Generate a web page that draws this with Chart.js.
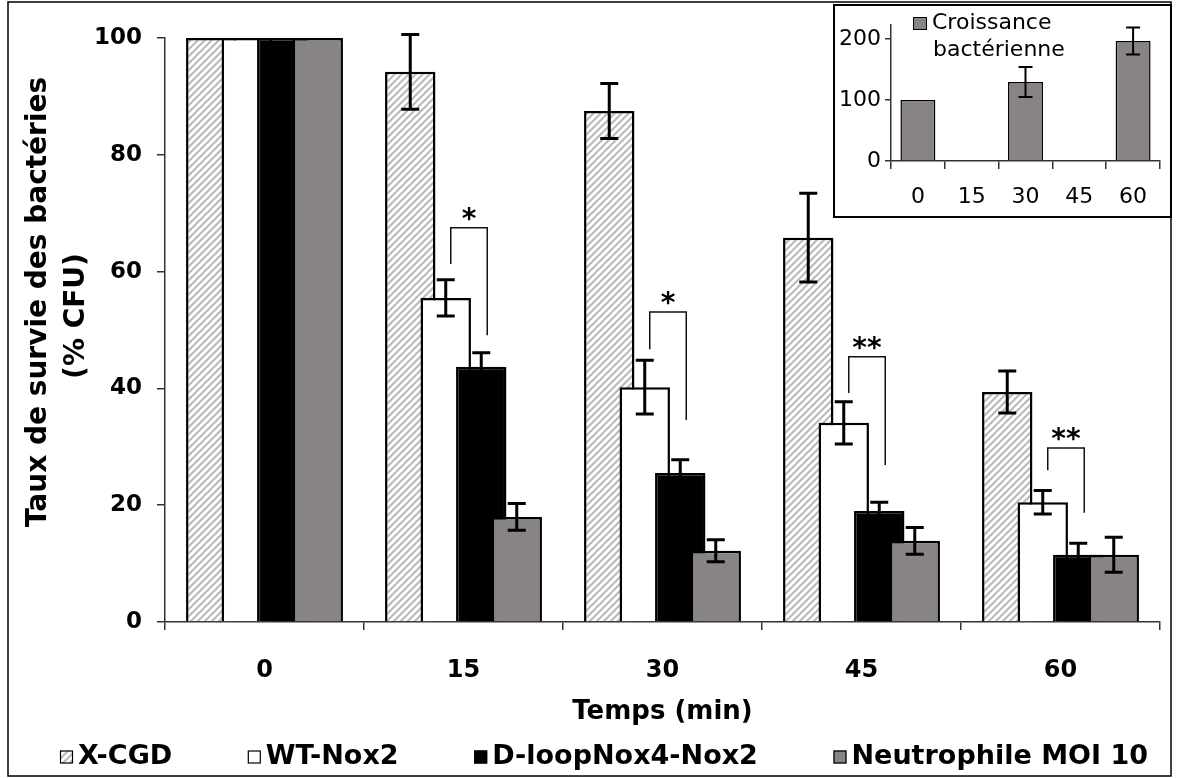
<!DOCTYPE html>
<html><head><meta charset="utf-8">
<script src="https://cdn.jsdelivr.net/npm/chart.js@4.4.1/dist/chart.umd.min.js"></script>
<style>
html,body{margin:0;padding:0;background:#fff;}
#wrap{position:relative;width:1177px;height:778px;overflow:hidden;background:#fff;}
#main{position:absolute;left:0;top:0;}
#insetBox{position:absolute;left:833px;top:4px;width:339px;height:214px;border:2px solid #000;box-sizing:border-box;background:#fff;}
#inset{position:absolute;left:0;top:0;}
</style></head><body>
<div id="wrap">
<canvas id="main" width="1177" height="778"></canvas>
<div id="insetBox"><canvas id="inset" width="335" height="210"></canvas></div>
</div>
<script>
// ---------- data ----------
const categories = ['0', '15', '30', '45', '60'];
const seriesNames = ['X-CGD', 'WT-Nox2', 'D-loopNox4-Nox2', 'Neutrophile MOI 10'];
const xcgdValues   = [100, 94.2, 87.5, 65.8, 39.4];
const xcgdErrors   = [0, 6.4, 4.7, 7.6, 3.6];
const wtValues     = [100, 55.5, 40.2, 34.1, 20.5];
const wtErrors     = [0, 3.1, 4.6, 3.6, 2.0];
const dloopValues  = [100, 43.7, 25.5, 19.0, 11.5];
const dloopErrors  = [0, 2.4, 2.3, 1.5, 2.0];
const neutroValues = [100, 18.0, 12.2, 13.9, 11.5];
const neutroErrors = [0, 2.3, 1.9, 2.3, 3.0];
const yTicks = [0, 20, 40, 60, 80, 100];
const xTitle = 'Temps (min)';
const yTitleLines = ['Taux de survie des bactéries', '(% CFU)'];
// significance brackets WT-Nox2 vs D-loopNox4-Nox2
const sigLabels      = ['', '*', '*', '**', '**'];
const sigLeftBottom  = [null, 61.3, 46.7, 39.2, 26.0];
const sigTop         = [null, 67.5, 53.1, 45.4, 29.8];
const sigRightBottom = [null, 49.1, 34.6, 26.9, 18.7];
// inset
const growthCategories = ['0', '15', '30', '45', '60'];
const growthLabelLines = ['Croissance', 'bactérienne'];
const growthValues = [100, null, 129.5, null, 196.7];
const growthErrors = [0, null, 24.5, null, 22];
const growthTicks = [0, 100, 200];
const growthAxisMax = 223;

// ---------- styles ----------
const FONT = '"DejaVu Sans", sans-serif';
Chart.defaults.font.family = FONT;
const GRAY = '#878387';
function makeHatch(ctx) {
  const c = document.createElement('canvas'); c.width = 7; c.height = 7;
  const g = c.getContext('2d');
  g.fillStyle = '#fff'; g.fillRect(0, 0, 7, 7);
  g.strokeStyle = '#b9b9b9'; g.lineWidth = 2;
  g.beginPath(); g.moveTo(-1, 8); g.lineTo(8, -1); g.stroke();
  g.beginPath(); g.moveTo(-1, 1); g.lineTo(1, -1); g.stroke();
  g.beginPath(); g.moveTo(6, 8); g.lineTo(8, 6); g.stroke();
  return ctx.createPattern(c, 'repeat');
}
const mainCtx = document.getElementById('main').getContext('2d');
const hatch = makeHatch(mainCtx);
const fills = [hatch, '#ffffff', '#000000', GRAY];
const seriesValues = [xcgdValues, wtValues, dloopValues, neutroValues];
const seriesErrors = [xcgdErrors, wtErrors, dloopErrors, neutroErrors];

function drawErrorBars(chart, errs, lw, half) {
  const ctx = chart.ctx, ys = chart.scales.y;
  ctx.save();
  ctx.strokeStyle = '#000'; ctx.lineWidth = lw; ctx.lineCap = 'butt';
  chart.data.datasets.forEach((ds, i) => {
    const meta = chart.getDatasetMeta(i);
    meta.data.forEach((bar, j) => {
      const v = ds.data[j], e = errs[i][j];
      if (v == null || !e) return;
      const yT = ys.getPixelForValue(v + e), yB = ys.getPixelForValue(v - e);
      const x = bar.x;
      ctx.beginPath();
      ctx.moveTo(x, yT); ctx.lineTo(x, yB);
      ctx.moveTo(x - half, yT); ctx.lineTo(x + half, yT);
      ctx.moveTo(x - half, yB); ctx.lineTo(x + half, yB);
      ctx.stroke();
    });
  });
  ctx.restore();
}

const mainPlugin = {
  id: 'mainDecor',
  beforeDraw(chart) {
    const ctx = chart.ctx;
    ctx.save(); ctx.fillStyle = '#fff'; ctx.fillRect(0, 0, chart.width, chart.height); ctx.restore();
  },
  beforeDatasetsDraw(chart) {
    // draw series in natural order so that later series overlap earlier ones
    const metas = chart.getSortedVisibleDatasetMetas().slice().sort((a, b) => a.index - b.index);
    metas.forEach(m => m.controller.draw());
    return false;
  },
  afterDraw(chart) {
    const ctx = chart.ctx, ys = chart.scales.y;
    drawErrorBars(chart, seriesErrors, 3, 9);
    // significance brackets
    const mL = chart.getDatasetMeta(1), mR = chart.getDatasetMeta(2);
    ctx.save();
    ctx.strokeStyle = '#111'; ctx.lineWidth = 1.5;
    ctx.fillStyle = '#000';
    ctx.font = 'bold 28px ' + FONT; ctx.textAlign = 'center'; ctx.textBaseline = 'middle';
    sigLabels.forEach((lab, j) => {
      if (!lab) return;
      const xL = mL.data[j].x + 5, xR = mR.data[j].x + 6;
      const yT = ys.getPixelForValue(sigTop[j]);
      ctx.beginPath();
      ctx.moveTo(xL, ys.getPixelForValue(sigLeftBottom[j]));
      ctx.lineTo(xL, yT); ctx.lineTo(xR, yT);
      ctx.lineTo(xR, ys.getPixelForValue(sigRightBottom[j]));
      ctx.stroke();
      ctx.fillText(lab, (xL + xR) / 2, yT - 7);
    });
    ctx.restore();
    // y axis title
    ctx.save();
    ctx.fillStyle = '#000'; ctx.font = 'bold 28px ' + FONT;
    ctx.textAlign = 'center'; ctx.textBaseline = 'middle';
    [[39, 302], [77, 316]].forEach((p, k) => {
      ctx.save(); ctx.translate(p[0], p[1]); ctx.rotate(-Math.PI / 2);
      ctx.fillText(yTitleLines[k], 0, 0); ctx.restore();
    });
    ctx.restore();
    // legend
    ctx.save();
    ctx.font = 'bold 27px ' + FONT; ctx.textBaseline = 'middle'; ctx.textAlign = 'left';
    const box = 13, gapBT = 5;
    const widths = seriesNames.map(n => ctx.measureText(n).width);
    const startX = 60, endX = 1148;
    const used = widths.reduce((a, b) => a + b, 0) + seriesNames.length * (box + gapBT);
    const gap = (endX - startX - used) / (seriesNames.length - 1);
    let x = startX; const yMid = 757;
    seriesNames.forEach((n, i) => {
      ctx.fillStyle = fills[i];
      ctx.fillRect(x, yMid - box / 2, box, box);
      ctx.strokeStyle = '#000'; ctx.lineWidth = 1.2;
      ctx.strokeRect(x + 0.5, yMid - box / 2 + 0.5, box - 1, box - 1);
      ctx.fillStyle = '#000';
      ctx.fillText(n, x + box + gapBT, yMid);
      x += box + gapBT + widths[i] + gap;
    });
    ctx.restore();
    // outer frame
    ctx.save(); ctx.strokeStyle = '#000'; ctx.lineWidth = 1.5;
    ctx.strokeRect(8, 2, 1163, 774); ctx.restore();
  }
};

new Chart(document.getElementById('main'), {
  type: 'bar',
  data: {
    labels: categories,
    datasets: seriesNames.map((name, i) => ({
      label: name,
      data: seriesValues[i],
      backgroundColor: fills[i],
      borderColor: '#000',
      borderWidth: 2.5,
      borderSkipped: 'start',
      categoryPercentage: 0.7136,
      barPercentage: 1.42
    }))
  },
  options: {
    responsive: false, animation: false, devicePixelRatio: 1,
    layout: { padding: { left: 10, right: 17, top: 38, bottom: 0 } },
    plugins: { legend: { display: false }, tooltip: { enabled: false } },
    scales: {
      x: {
        grid: { display: true, drawOnChartArea: false, drawTicks: true, tickLength: 8, color: '#333', lineWidth: 1.5, offset: true },
        border: { display: true, color: '#333', width: 1.5 },
        ticks: { font: { size: 24, weight: 'bold' }, color: '#000', padding: 26 },
        title: { display: true, text: xTitle, color: '#000', font: { size: 26, weight: 'bold' }, padding: { top: 0, bottom: 50 } },
        afterFit: s => { s.height = 156; }
      },
      y: {
        min: 0, max: 100,
        afterBuildTicks: s => { s.ticks = yTicks.map(v => ({ value: v })); },
        ticks: { font: { size: 23, weight: 'bold' }, color: '#000', padding: 15 },
        grid: { drawOnChartArea: false, tickLength: 8, color: '#333', lineWidth: 1.5 },
        border: { display: true, color: '#333', width: 1.5 },
        afterFit: s => { s.width = 155; }
      }
    }
  },
  plugins: [mainPlugin]
});

// ---------- inset ----------
const insetPlugin = {
  id: 'insetDecor',
  beforeDraw(chart) {
    const ctx = chart.ctx;
    ctx.save(); ctx.fillStyle = '#fff'; ctx.fillRect(0, 0, chart.width, chart.height); ctx.restore();
  },
  afterDraw(chart) {
    drawErrorBars(chart, [growthErrors], 2, 7);
    const ctx = chart.ctx;
    ctx.save();
    ctx.fillStyle = GRAY; ctx.fillRect(78, 11, 14, 13);
    ctx.strokeStyle = '#000'; ctx.lineWidth = 1; ctx.strokeRect(78.5, 11.5, 13, 12);
    ctx.fillStyle = '#000'; ctx.font = '22px ' + FONT; ctx.textAlign = 'left'; ctx.textBaseline = 'alphabetic';
    ctx.fillText(growthLabelLines[0], 97, 23);
    ctx.fillText(growthLabelLines[1], 98, 50);
    ctx.restore();
  }
};

new Chart(document.getElementById('inset'), {
  type: 'bar',
  data: {
    labels: growthCategories,
    datasets: [{
      label: growthLabelLines.join(' '),
      data: growthValues,
      backgroundColor: GRAY,
      borderColor: '#000',
      borderWidth: 1.5,
      borderSkipped: 'start',
      categoryPercentage: 1,
      barPercentage: 0.65
    }]
  },
  options: {
    responsive: false, animation: false, devicePixelRatio: 1,
    layout: { padding: { left: 0, right: 10, top: 19, bottom: 0 } },
    plugins: { legend: { display: false }, tooltip: { enabled: false } },
    scales: {
      x: {
        grid: { display: true, drawOnChartArea: false, tickLength: 8, color: '#333', lineWidth: 1.5, offset: true },
        border: { display: true, color: '#333', width: 1.5 },
        ticks: { font: { size: 22 }, color: '#000', padding: 15 },
        afterFit: s => { s.height = 55; }
      },
      y: {
        min: 0, max: growthAxisMax,
        afterBuildTicks: s => { s.ticks = growthTicks.map(v => ({ value: v })); },
        ticks: { font: { size: 22 }, color: '#000', padding: 4 },
        grid: { drawOnChartArea: false, tickLength: 6, color: '#333', lineWidth: 1.5 },
        border: { display: true, color: '#333', width: 1.5 },
        afterFit: s => { s.width = 56; }
      }
    }
  },
  plugins: [insetPlugin]
});
</script>
</body></html>
